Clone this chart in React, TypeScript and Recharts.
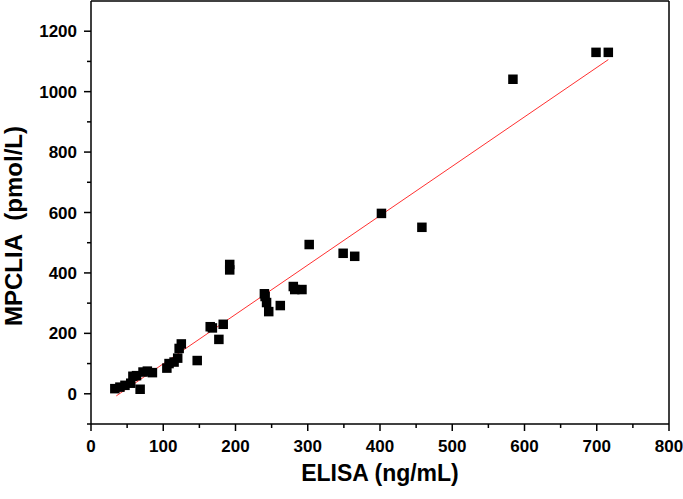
import {
  ScatterChart,
  Scatter,
  XAxis,
  YAxis,
  ReferenceLine,
  Label,
} from 'recharts'

// ELISA (ng/mL) vs MPCLIA (pmol/L)
const elisa = [
  33, 40, 47, 55, 58, 63, 68, 72, 78, 85, 105, 108, 115, 120, 122, 125, 147, 165, 168, 177,
  183, 192, 192, 240, 241, 243, 246, 262, 280, 282, 292, 302, 349, 365, 402, 458, 584, 699, 716,
]
const mpclia = [
  17, 22, 28, 35, 58, 60, 15, 72, 75, 70, 85, 100, 105, 118, 150, 165, 110, 222, 218, 180,
  230, 410, 428, 331, 322, 302, 272, 292, 355, 345, 345, 494, 465, 455, 597, 551, 1041, 1130, 1130,
]

// linear fit drawn across the data range
const fitStart = { x: 35, y: -7 }
const fitEnd = { x: 716, y: 1106 }

const xTicks = [0, 50, 100, 150, 200, 250, 300, 350, 400, 450, 500, 550, 600, 650, 700, 750, 800]
const yTicks = [-100, 0, 100, 200, 300, 400, 500, 600, 700, 800, 900, 1000, 1100, 1200]

const points = elisa.map((x, i) => ({ x, y: mpclia[i] }))

const FONT = 'Arial, "Liberation Sans", sans-serif'

function XTick({ x, y, payload }: any) {
  const major = payload.value % 100 === 0
  return (
    <g>
      <line x1={x} y1={y} x2={x} y2={y + (major ? 7 : 4)} stroke="#000" strokeWidth={1.5} />
      {major && (
        <text x={x} y={y + 28} textAnchor="middle" fontFamily={FONT} fontWeight="bold" fontSize={17} fill="#000">
          {payload.value}
        </text>
      )}
    </g>
  )
}

function YTick({ x, y, payload }: any) {
  const major = payload.value % 200 === 0
  return (
    <g>
      <line x1={x} y1={y} x2={x - (major ? 7 : 4)} y2={y} stroke="#000" strokeWidth={1.5} />
      {major && (
        <text x={x - 14} y={y + 6} textAnchor="end" fontFamily={FONT} fontWeight="bold" fontSize={17} fill="#000">
          {payload.value}
        </text>
      )}
    </g>
  )
}

function Square({ cx, cy }: any) {
  return <rect x={cx - 4.75} y={cy - 4.75} width={9.5} height={9.5} fill="#000" />
}

export default function App() {
  return (
    <div style={{ position: 'absolute', left: 0, top: 0, background: '#fff' }}>
      <ScatterChart width={683} height={499} margin={{ top: 1, right: 14, bottom: 0, left: 0 }}>
        <XAxis
          type="number"
          dataKey="x"
          domain={[0, 800]}
          ticks={xTicks}
          interval={0}
          tick={<XTick />}
          tickLine={false}
          tickSize={0}
          tickMargin={0}
          height={75}
          axisLine={{ stroke: '#000', strokeWidth: 1.5 }}
        >
          <Label
            value="ELISA (ng/mL)"
            position="insideBottom"
            offset={18}
            style={{ fontFamily: FONT, fontWeight: 'bold', fontSize: 23, fill: '#000' }}
          />
        </XAxis>
        <YAxis
          type="number"
          dataKey="y"
          domain={[-100, 1300]}
          ticks={yTicks}
          interval={0}
          tick={<YTick />}
          tickLine={false}
          tickSize={0}
          tickMargin={0}
          width={91}
          axisLine={{ stroke: '#000', strokeWidth: 1.5 }}
        >
          <Label
            content={() => (
              <text
                x={0}
                y={0}
                transform="translate(22, 226) rotate(-90)"
                textAnchor="middle"
                fontFamily={FONT}
                fontWeight="bold"
                fontSize={24}
                fill="#000"
              >
                {'MPCLIA\u00a0\u00a0(pmol/L)'}
              </text>
            )}
          />
        </YAxis>
        <ReferenceLine x={800} stroke="#000" strokeWidth={1.5} />
        <ReferenceLine y={1300} stroke="#000" strokeWidth={1.5} />
        <ReferenceLine
          segment={[fitStart, fitEnd]}
          stroke="#ff3030"
          strokeWidth={1}
          ifOverflow="visible"
        />
        <Scatter data={points} shape={<Square />} isAnimationActive={false} />
      </ScatterChart>
    </div>
  )
}
